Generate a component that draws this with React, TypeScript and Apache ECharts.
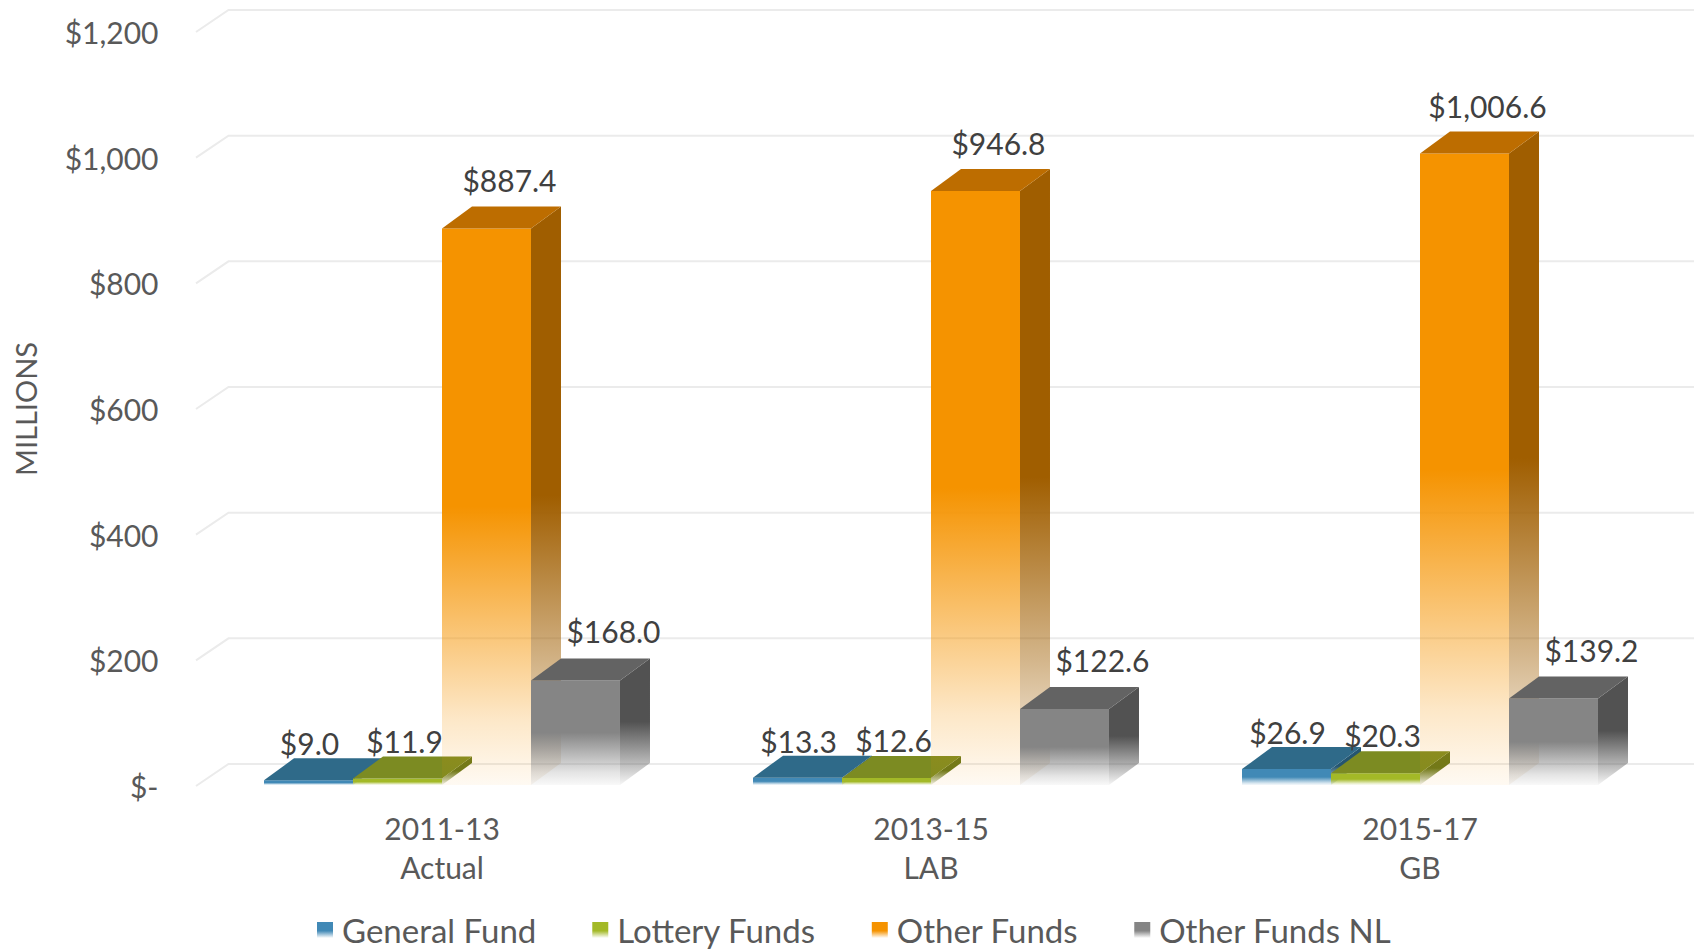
import React, { useEffect, useRef } from "react";
import * as echarts from "echarts";

const categories = ["2011-13\nActual", "2013-15\nLAB", "2015-17\nGB"];
const seriesNames = ["General Fund", "Lottery Funds", "Other Funds", "Other Funds NL"];
const generalFund = [9.0, 13.3, 26.9];
const lotteryFunds = [11.9, 12.6, 20.3];
const otherFunds = [887.4, 946.8, 1006.6];
const otherFundsNL = [168.0, 122.6, 139.2];
const yTicks = [0, 200, 400, 600, 800, 1000, 1200];

const FONT = "Lato";
const DEPTH_X = 30;
const DEPTH_Y = -22;

type Palette = { front: string; top: string; side: string; rgb: string; labelDx: number; labelDy: number };

const palettes: Palette[] = [
  { front: "#4189B6", top: "#2F6A89", side: "#245570", rgb: "65,137,182", labelDx: -14, labelDy: 15 },
  { front: "#A3B927", top: "#7C8B22", side: "#66761A", rgb: "163,185,39", labelDx: -8, labelDy: 16 },
  { front: "#F59300", top: "#BD6D00", side: "#A05E00", rgb: "245,147,0", labelDx: 8, labelDy: 26 },
  { front: "#858585", top: "#636363", side: "#525252", rgb: "133,133,133", labelDx: 23, labelDy: 27 },
];

function rgbOf(hex: string) {
  const n = parseInt(hex.slice(1), 16);
  return `${(n >> 16) & 255},${(n >> 8) & 255},${n & 255}`;
}

function fmt(v: number) {
  return "$" + v.toLocaleString("en-US", { minimumFractionDigits: 1, maximumFractionDigits: 1 });
}

function makeBarSeries(name: string, values: number[], idx: number) {
  const p = palettes[idx];
  const sideRgb = rgbOf(p.side);
  return {
    type: "custom",
    name,
    data: values.map((v, i) => [i, v]),
    encode: { x: 0, y: 1 },
    z: 3 + idx,
    itemStyle: {
      color: new echarts.graphic.LinearGradient(0, 0, 0, 1, [
        { offset: 0, color: p.front },
        { offset: 0.55, color: p.front },
        { offset: 1, color: "#ffffff" },
      ]),
    },
    renderItem: (params: any, api: any) => {
      const ci = api.value(0);
      const v = api.value(1);
      const base = api.coord([ci, 0]);
      const top = api.coord([ci, v]);
      const band = api.size([1, 0])[0];
      const bw = band * 0.182;
      const x0 = base[0] + (idx - 2) * bw;
      const x1 = x0 + bw;
      const yb = base[1] - 1;
      const yt = top[1];
      const frontGrad = new echarts.graphic.LinearGradient(0, 0, 0, 1, [
        { offset: 0, color: `rgba(${p.rgb},1)` },
        { offset: 0.5, color: `rgba(${p.rgb},1)` },
        { offset: 0.72, color: `rgba(${p.rgb},0.55)` },
        { offset: 0.88, color: `rgba(${p.rgb},0.22)` },
        { offset: 1, color: `rgba(${p.rgb},0.05)` },
      ]);
      const sideGrad = new echarts.graphic.LinearGradient(0, 0, 0, 1, [
        { offset: 0, color: `rgba(${sideRgb},1)` },
        { offset: 0.5, color: `rgba(${sideRgb},1)` },
        { offset: 0.8, color: `rgba(${sideRgb},0.45)` },
        { offset: 1, color: `rgba(${sideRgb},0.05)` },
      ]);
      const cx = (x0 + x1) / 2 + DEPTH_X / 2 + p.labelDx;
      const ly = yt + DEPTH_Y - p.labelDy;
      return {
        type: "group",
        children: [
          {
            type: "polygon",
            shape: {
              points: [
                [x1, yt],
                [x1 + DEPTH_X, yt + DEPTH_Y],
                [x1 + DEPTH_X, yb + DEPTH_Y],
                [x1, yb],
              ],
            },
            style: { fill: sideGrad },
          },
          {
            type: "rect",
            shape: { x: x0, y: yt, width: bw, height: yb - yt },
            style: { fill: frontGrad },
          },
          {
            type: "polygon",
            shape: {
              points: [
                [x0, yt],
                [x1, yt],
                [x1 + DEPTH_X, yt + DEPTH_Y],
                [x0 + DEPTH_X, yt + DEPTH_Y],
              ],
            },
            style: { fill: p.top },
          },
          {
            type: "text",
            style: {
              text: fmt(v),
              x: cx,
              y: ly,
              align: "center",
              verticalAlign: "middle",
              fill: "#404040",
              fontSize: 30,
              fontFamily: FONT,
            },
          },
        ],
      };
    },
  };
}

export default function App() {
  const ref = useRef<HTMLDivElement>(null);

  useEffect(() => {
    if (!ref.current) return;
    const chart = echarts.init(ref.current, null, { renderer: "svg" });
    const gridSeries = {
      type: "custom",
      name: "grid",
      silent: true,
      z: 1,
      data: yTicks.map((t) => [0, t]),
      encode: { x: 0, y: 1 },
      renderItem: (params: any, api: any) => {
        const pt = api.coord([0, api.value(1)]);
        const cs = params.coordSys;
        const y = pt[1];
        return {
          type: "polyline",
          shape: {
            points: [
              [cs.x - 1.5, y],
              [cs.x + 31, y - 22],
              [cs.x + cs.width + 32, y - 22],
            ],
          },
          style: { stroke: "#EBEBEB", lineWidth: 2, fill: "none" },
        };
      },
    };

    chart.setOption({
      animation: false,
      backgroundColor: "#ffffff",
      grid: { left: 197.5, right: 29.5, top: 32, bottom: 165 },
      legend: {
        data: seriesNames,
        left: 312,
        top: 907,
        icon: "rect",
        itemWidth: 16,
        itemHeight: 16,
        itemGap: 56,
        textStyle: { fontSize: 33, lineHeight: 36, color: "#595959", fontFamily: FONT, padding: [0, 0, 0, 4] },
      },
      xAxis: {
        type: "category",
        data: categories,
        axisLine: { show: false },
        axisTick: { show: false },
        splitLine: { show: false },
        axisLabel: {
          fontSize: 30,
          lineHeight: 39,
          margin: 22,
          color: "#595959",
          fontFamily: FONT,
        },
      },
      yAxis: {
        type: "value",
        min: 0,
        max: 1200,
        interval: 200,
        name: "MILLIONS",
        nameLocation: "middle",
        nameGap: 158,
        nameTextStyle: { fontSize: 29, color: "#595959", fontFamily: FONT },
        axisLine: { show: false },
        axisTick: { show: false },
        splitLine: { show: false },
        axisLabel: {
          fontSize: 30,
          margin: 39,
          color: "#595959",
          fontFamily: FONT,
          formatter: (v: number) => (v === 0 ? "$-" : "$" + v.toLocaleString("en-US")),
        },
      },
      series: [
        gridSeries,
        makeBarSeries(seriesNames[0], generalFund, 0),
        makeBarSeries(seriesNames[1], lotteryFunds, 1),
        makeBarSeries(seriesNames[2], otherFunds, 2),
        makeBarSeries(seriesNames[3], otherFundsNL, 3),
      ],
    });
    return () => chart.dispose();
  }, []);

  return (
    <div
      ref={ref}
      style={{ position: "absolute", left: 0, top: 0, width: 1694, height: 951 }}
    />
  );
}
